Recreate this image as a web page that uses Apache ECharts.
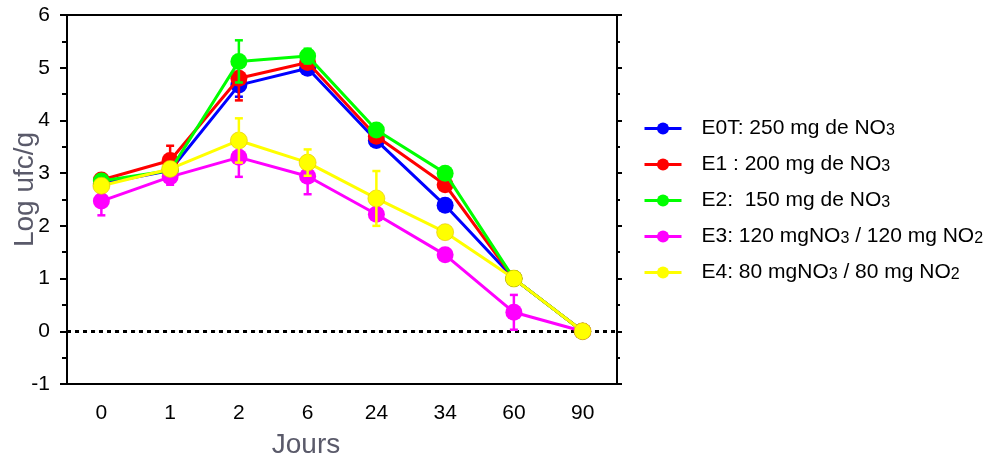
<!DOCTYPE html>
<html>
<head>
<meta charset="utf-8">
<script src="https://cdn.jsdelivr.net/npm/echarts@6/dist/echarts.min.js"></script>
<style>html,body{margin:0;padding:0;background:#fff}#c{width:996px;height:458px}</style>
</head>
<body>
<div id="c"></div>
<script>
var days = ['0','1','2','6','24','34','60','90'];
var seriesNames = ['E0T: 250 mg de NO3','E1 : 200 mg de NO3','E2:  150 mg de NO3','E3: 120 mgNO3 / 120 mg NO2','E4: 80 mgNO3 / 80 mg NO2'];
var colors = ['#0000ff','#ff0000','#00ff00','#ff00ff','#ffff00'];
var E0T = [2.80, 3.05, 4.67, 4.99, 3.62, 2.39, 1.00, 0];
var E1  = [2.87, 3.24, 4.80, 5.10, 3.70, 2.78, 1.00, 0];
var E2  = [2.85, 3.05, 5.12, 5.22, 3.82, 3.00, 1.00, 0];
var E3  = [2.47, 2.93, 3.30, 2.94, 2.22, 1.45, 0.36, 0];
var E4  = [2.76, 3.08, 3.62, 3.20, 2.52, 1.88, 1.00, 0];
var errE0T = [0.05, 0.10, 0.22, 0.08, 0.08, 0.05, 0, 0];
var errE1  = [0.10, 0.28, 0.42, 0.10, 0.06, 0.05, 0, 0];
var errE2  = [0.10, 0.10, 0.40, 0.14, 0.06, 0.05, 0, 0];
var errE3  = [0.27, 0.15, 0.37, 0.34, 0.10, 0.05, 0.33, 0];
var errE4  = [0.10, 0.10, 0.42, 0.25, 0.52, 0.05, 0, 0];
var yTicks = [-1, 0, 1, 2, 3, 4, 5, 6];

var values = [E0T, E1, E2, E3, E4];
var errs = [errE0T, errE1, errE2, errE3, errE4];

var chart = echarts.init(document.getElementById('c'), null, {renderer: 'canvas'});
var FONT = 'Liberation Sans, Arial, sans-serif';
var series = [];
values.forEach(function (vals, i) {
  series.push({
    name: 'err' + i,
    type: 'custom',
    z: 3 + i * 2,
    silent: true,
    data: vals.map(function (v, k) { return [k, v - errs[i][k], v + errs[i][k]]; }).filter(function (d) { return d[2] - d[1] > 0.001; }),
    renderItem: function (params, api) {
      var x = api.value(0);
      var lo = api.coord([x, api.value(1)]);
      var hi = api.coord([x, api.value(2)]);
      var w = 4;
      var st = {stroke: colors[i], lineWidth: 2.5};
      return {type: 'group', children: [
        {type: 'line', shape: {x1: lo[0], y1: lo[1], x2: hi[0], y2: hi[1]}, style: st},
        {type: 'line', shape: {x1: lo[0] - w, y1: lo[1], x2: lo[0] + w, y2: lo[1]}, style: st},
        {type: 'line', shape: {x1: hi[0] - w, y1: hi[1], x2: hi[0] + w, y2: hi[1]}, style: st}
      ]};
    }
  });
  var s = {
    name: seriesNames[i],
    type: 'line',
    z: 2 + i * 2,
    data: vals,
    symbol: 'circle',
    symbolSize: 17,
    lineStyle: {color: colors[i], width: 3},
    itemStyle: {color: colors[i], borderColor: i === 4 ? '#e0c000' : colors[i], borderWidth: i === 4 ? 0.6 : 0}
  };
  if (i === 0) {
    s.markLine = {
      silent: true,
      symbol: 'none',
      label: {show: false},
      lineStyle: {color: '#000', width: 3, type: [4, 4]},
      data: [{yAxis: 0}]
    };
  }
  series.push(s);
});

function legendFmt(name) {
  var t = '{n|' + name.replace(/NO([23])/g, 'NO}{s|$1}{n|') + '}';
  return t.replace(/\{n\|\}/g, '');
}

chart.setOption({
  animation: false,
  backgroundColor: '#fff',
  textStyle: {fontFamily: FONT},
  grid: {left: 67, right: 379, top: 15, bottom: 74, containLabel: false, outerBoundsMode: 'none'},
  legend: {
    data: seriesNames,
    orient: 'vertical',
    left: 643,
    top: 118,
    padding: 0,
    itemWidth: 37,
    itemHeight: 15,
    itemGap: 15,
    lineStyle: {width: 3},
    itemStyle: {borderWidth: 0},
    formatter: legendFmt,
    textStyle: {
      color: '#000',
      fontFamily: FONT,
      padding: [0, 0, 0, 15],
      rich: {
        n: {fontSize: 21, lineHeight: 20, color: '#000', fontFamily: FONT},
        s: {fontSize: 16, lineHeight: 20, color: '#000', fontFamily: FONT, verticalAlign: 'bottom', padding: [4, 0, 0, 0]}
      }
    }
  },
  xAxis: [{
    type: 'category',
    data: days,
    position: 'bottom',
    boundaryGap: true,
    axisLine: {onZero: false, lineStyle: {color: '#000', width: 2}},
    axisTick: {alignWithLabel: true, length: 4, lineStyle: {color: '#000', width: 2}},
    axisLabel: {color: '#000', fontSize: 21, margin: 19, fontFamily: FONT},
    splitLine: {show: false},
    name: 'Jours',
    nameLocation: 'middle',
    nameMoveOverlap: false,
    nameGap: 47,
    nameTextStyle: {color: '#5a5a6a', fontSize: 28, fontFamily: FONT, padding: [0, 72, 0, 0]}
  }, {
    type: 'category',
    data: days,
    position: 'top',
    boundaryGap: true,
    axisLine: {onZero: false, lineStyle: {color: '#000', width: 2}},
    axisTick: {alignWithLabel: true, length: 4, lineStyle: {color: '#000', width: 2}},
    axisLabel: {show: false},
    splitLine: {show: false}
  }],
  yAxis: [{
    type: 'value',
    min: yTicks[0],
    max: yTicks[yTicks.length - 1],
    interval: 1,
    position: 'left',
    axisLine: {show: true, onZero: false, lineStyle: {color: '#000', width: 2}},
    axisTick: {show: true, length: 7, lineStyle: {color: '#000', width: 2}},
    minorTick: {show: true, splitNumber: 2, length: 5, lineStyle: {color: '#000', width: 2}},
    axisLabel: {color: '#000', fontSize: 21, margin: 17, fontFamily: FONT},
    splitLine: {show: false},
    name: 'Log ufc/g',
    nameLocation: 'middle',
    nameMoveOverlap: false,
    nameGap: 28,
    nameTextStyle: {color: '#5a5a6a', fontSize: 28, fontFamily: FONT, padding: [0, 0, 0, 20]}
  }, {
    type: 'value',
    min: yTicks[0],
    max: yTicks[yTicks.length - 1],
    interval: 1,
    position: 'right',
    axisLine: {show: true, onZero: false, lineStyle: {color: '#000', width: 2}},
    axisTick: {show: true, length: 5, lineStyle: {color: '#000', width: 2}},
    minorTick: {show: true, splitNumber: 2, length: 3, lineStyle: {color: '#000', width: 2}},
    axisLabel: {show: false},
    splitLine: {show: false}
  }],
  series: series
});
</script>
</body>
</html>
